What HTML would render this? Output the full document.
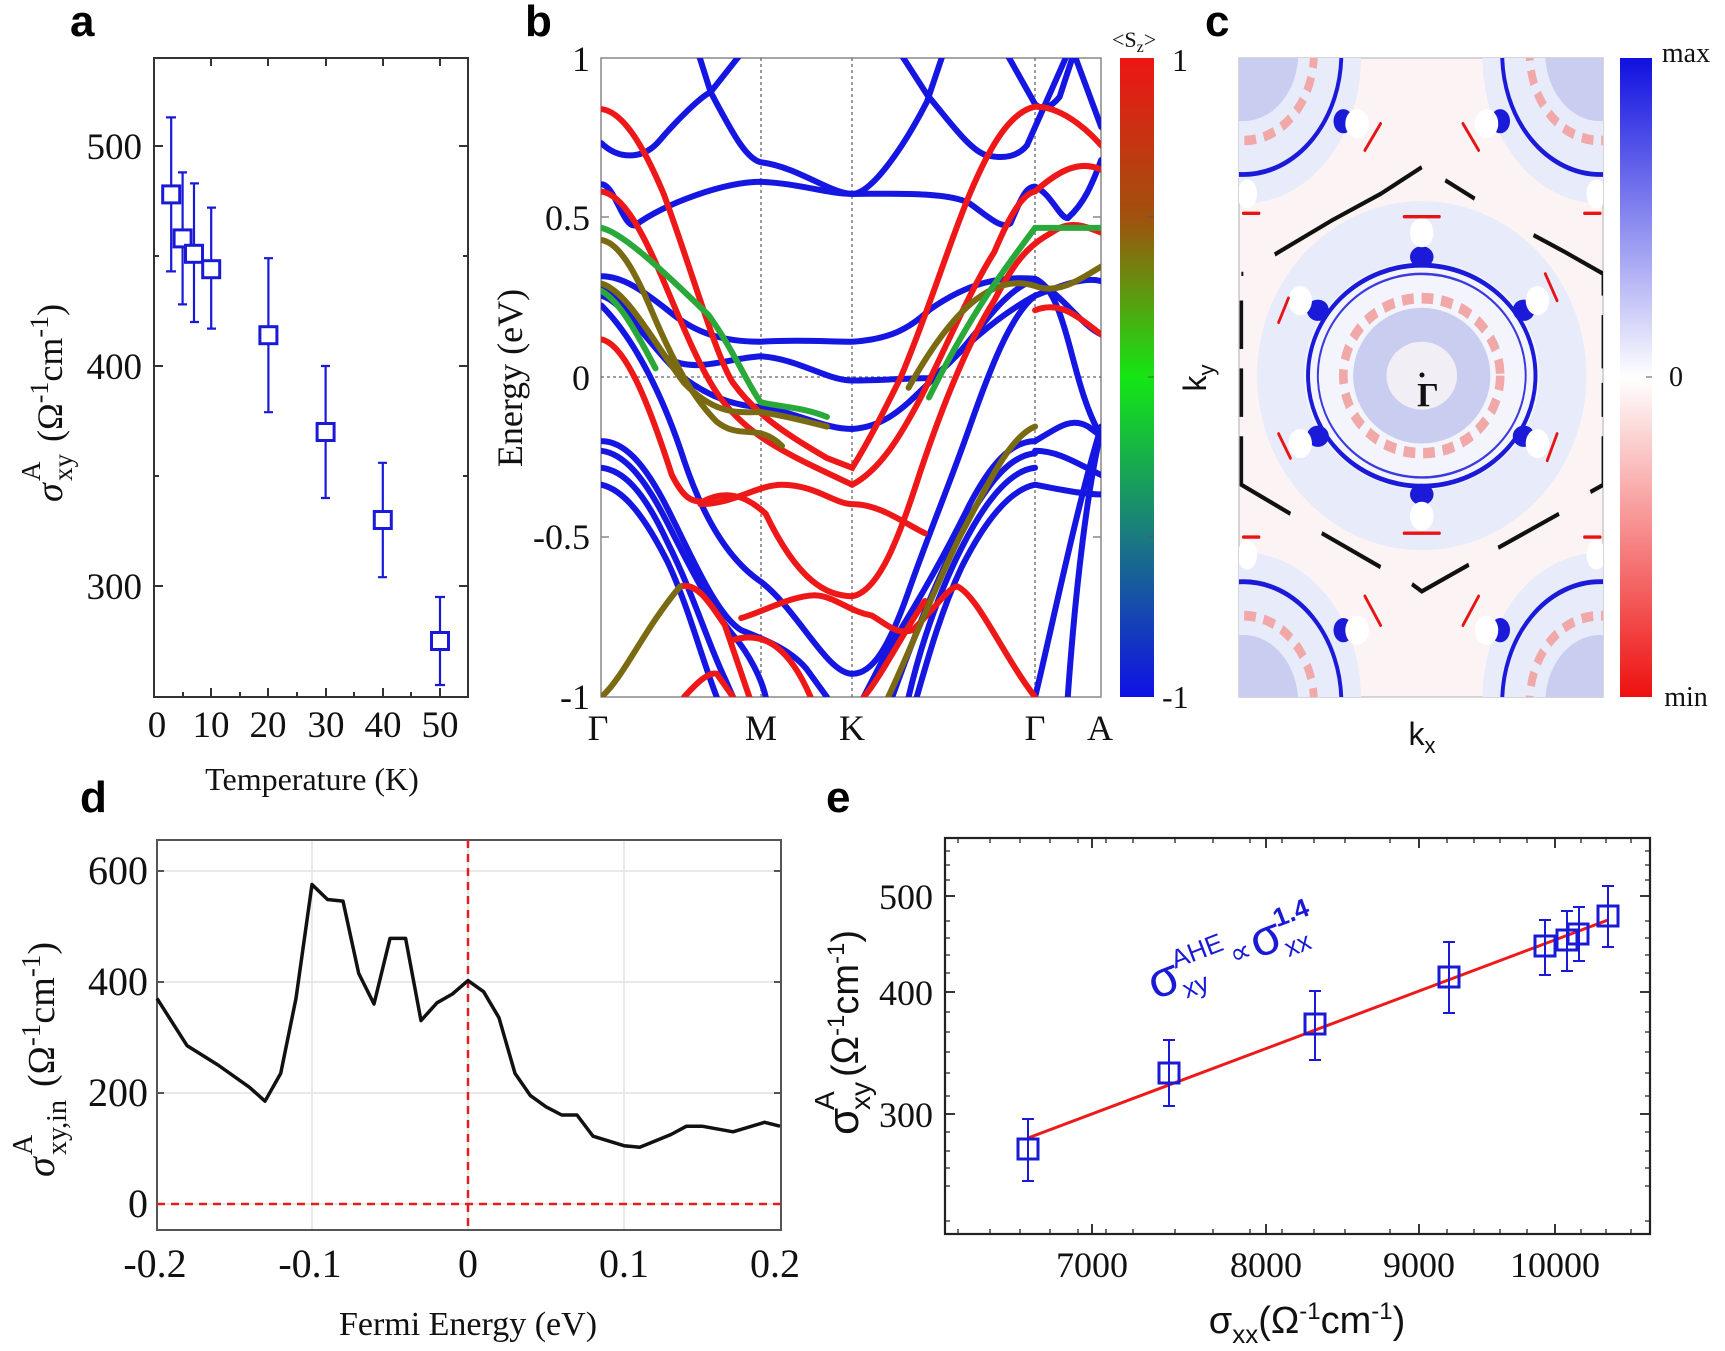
<!DOCTYPE html>
<html><head><meta charset="utf-8"><style>
html,body{margin:0;padding:0;background:#fff;}
svg{display:block;}
.ser{font-family:"Liberation Serif",serif;}
.san{font-family:"Liberation Sans",sans-serif;}
</style></head><body>
<svg width="1725" height="1351" viewBox="0 0 1725 1351" xmlns="http://www.w3.org/2000/svg">
<defs>
<linearGradient id="gsz" x1="0" y1="0" x2="0" y2="1">
<stop offset="0" stop-color="#ee1515"/><stop offset="0.25" stop-color="#a0520e"/>
<stop offset="0.5" stop-color="#14e614"/><stop offset="0.75" stop-color="#1a7a80"/>
<stop offset="1" stop-color="#1010e6"/></linearGradient>
<linearGradient id="gbc" x1="0" y1="0" x2="0" y2="1">
<stop offset="0" stop-color="#1010e0"/><stop offset="0.5" stop-color="#ffffff"/>
<stop offset="1" stop-color="#ee1010"/></linearGradient>
<clipPath id="cb"><rect x="601" y="58" width="500" height="639"/></clipPath>
<clipPath id="cc"><rect x="1239" y="58" width="364" height="639"/></clipPath>
</defs>

<!-- ============ PANEL A ============ -->
<text x="70" y="36" class="san" font-size="44" font-weight="bold">a</text>
<rect x="154" y="58" width="314" height="639" fill="none" stroke="#333" stroke-width="2"/>
<g stroke="#333" stroke-width="2">
<line x1="154" y1="146" x2="163" y2="146"/><line x1="154" y1="366" x2="163" y2="366"/><line x1="154" y1="586" x2="163" y2="586"/>
<line x1="468" y1="146" x2="459" y2="146"/><line x1="468" y1="366" x2="459" y2="366"/><line x1="468" y1="586" x2="459" y2="586"/>
<line x1="154" y1="256" x2="159" y2="256"/><line x1="154" y1="476" x2="159" y2="476"/>
<line x1="468" y1="256" x2="463" y2="256"/><line x1="468" y1="476" x2="463" y2="476"/>
<line x1="211" y1="697" x2="211" y2="688"/><line x1="268" y1="697" x2="268" y2="688"/><line x1="326" y1="697" x2="326" y2="688"/><line x1="383" y1="697" x2="383" y2="688"/><line x1="440" y1="697" x2="440" y2="688"/>
<line x1="183" y1="697" x2="183" y2="692"/><line x1="240" y1="697" x2="240" y2="692"/><line x1="297" y1="697" x2="297" y2="692"/><line x1="354" y1="697" x2="354" y2="692"/><line x1="411" y1="697" x2="411" y2="692"/>
<line x1="211" y1="58" x2="211" y2="66"/><line x1="268" y1="58" x2="268" y2="66"/><line x1="326" y1="58" x2="326" y2="66"/><line x1="383" y1="58" x2="383" y2="66"/><line x1="440" y1="58" x2="440" y2="66"/>
</g>
<g class="ser" font-size="37" fill="#111" text-anchor="end">
<text x="142" y="159">500</text><text x="142" y="379">400</text><text x="142" y="599">300</text></g>
<g class="ser" font-size="37" fill="#111" text-anchor="middle">
<text x="157" y="737">0</text><text x="211" y="737">10</text><text x="268" y="737">20</text><text x="326" y="737">30</text><text x="383" y="737">40</text><text x="440" y="737">50</text></g>
<text x="312" y="790" class="ser" font-size="32" text-anchor="middle" fill="#111">Temperature (K)</text>
<g transform="translate(62,342) rotate(-90)" class="ser" fill="#111">
<text x="-160" y="0" font-size="38" font-style="italic">σ</text>
<text x="-139" y="10" font-size="27">xy</text>
<text x="-139" y="-22" font-size="27">A</text>
<text x="-100" y="0" font-size="36">(Ω<tspan font-size="26" dy="-14">-1</tspan><tspan dy="14">cm</tspan><tspan font-size="26" dy="-14">-1</tspan><tspan dy="14">)</tspan></text>
</g>
<g stroke="#1a1ad6" stroke-width="2.2" fill="none">
<path d="M171.2,117.4V271.4M166,117.4h10M166,271.4h10"/>
<path d="M182.6,172.4V304.4M178,172.4h9M178,304.4h9"/>
<path d="M194,183.4V322M190,183.4h9M190,322h9"/>
<path d="M211.2,207.6V328.6M207,207.6h9M207,328.6h9"/>
<path d="M268.4,258.2V412.2M264,258.2h9M264,412.2h9"/>
<path d="M325.6,366V498M321,366h9M321,498h9"/>
<path d="M382.8,462.8V577.2M378,462.8h9M378,577.2h9"/>
<path d="M440,597V685M435,597h10M435,685h10"/>
</g>
<g stroke="#1a1ad6" stroke-width="3" fill="#fff">
<rect x="162.7" y="185.9" width="17" height="17"/><rect x="174.1" y="229.9" width="17" height="17"/>
<rect x="185.5" y="245.3" width="17" height="17"/><rect x="202.7" y="260.7" width="17" height="17"/>
<rect x="259.9" y="326.7" width="17" height="17"/><rect x="317.1" y="423.5" width="17" height="17"/>
<rect x="374.3" y="511.5" width="17" height="17"/><rect x="431.5" y="632.5" width="17" height="17"/>
</g>

<!-- ============ PANEL B ============ -->
<text x="525" y="36" class="san" font-size="44" font-weight="bold">b</text>
<rect x="601" y="58" width="500" height="639" fill="none" stroke="#888" stroke-width="1.5"/>
<g stroke="#666" stroke-width="1.3" stroke-dasharray="3,3">
<line x1="761" y1="58" x2="761" y2="697"/><line x1="852" y1="58" x2="852" y2="697"/><line x1="1035" y1="58" x2="1035" y2="697"/>
<line x1="601" y1="377" x2="1101" y2="377"/></g>
<g stroke="#888" stroke-width="1.5"><line x1="601" y1="217" x2="609" y2="217"/><line x1="601" y1="537" x2="609" y2="537"/><line x1="1101" y1="217" x2="1093" y2="217"/><line x1="1101" y1="537" x2="1093" y2="537"/></g>
<g class="ser" font-size="36" fill="#111" text-anchor="end">
<text x="590" y="71">1</text><text x="590" y="230">0.5</text><text x="590" y="390">0</text><text x="590" y="549">-0.5</text><text x="590" y="709">-1</text></g>
<g class="ser" font-size="36" fill="#111" text-anchor="middle">
<text x="598" y="740">Γ</text><text x="761" y="740">M</text><text x="852" y="740">K</text><text x="1035" y="740">Γ</text><text x="1100" y="740">A</text></g>
<text transform="translate(522,378) rotate(-90)" class="ser" font-size="36" text-anchor="middle" fill="#111">Energy (eV)</text>
<g clip-path="url(#cb)">
<g transform="translate(480,0) scale(0.40816,0.48473)" fill="none" stroke-linecap="round">
<g stroke="#1616e2" stroke-width="6">
<path vector-effect="non-scaling-stroke" d="M297,295 C340,330 400,330 440,290 S540,200 565,190 L640,110"/>
<path vector-effect="non-scaling-stroke" d="M535,110 L565,190 C610,260 650,330 690,335 C780,345 860,400 912,400 C960,400 1040,300 1095,210 L1135,110"/>
<path vector-effect="non-scaling-stroke" d="M1030,110 L1095,195 C1150,250 1200,310 1240,320 C1290,330 1320,320 1340,300 L1440,110"/>
<path vector-effect="non-scaling-stroke" d="M1290,110 L1360,215 C1380,230 1400,220 1420,200 L1455,110 L1522,262"/>
<path vector-effect="non-scaling-stroke" d="M297,380 C330,380 350,470 380,465 C450,420 600,375 688,375 C780,378 850,400 912,400 C1000,400 1150,395 1200,420 C1250,450 1280,475 1300,460 C1330,400 1340,385 1360,385 C1400,400 1420,450 1440,450 C1480,420 1500,380 1522,330"/>
<path vector-effect="non-scaling-stroke" d="M297,570 C350,570 400,600 460,640 C530,690 600,705 688,705 C780,700 850,705 912,705 C1000,700 1050,680 1100,640 C1200,580 1280,570 1360,575 C1400,590 1420,640 1440,700 C1460,760 1480,840 1522,900"/>
<path vector-effect="non-scaling-stroke" d="M297,590 C350,600 400,700 460,740 C530,770 600,740 688,735 C780,740 850,785 912,785 C980,785 1050,780 1100,780 C1150,760 1200,700 1250,650 C1300,600 1340,580 1360,580 C1420,600 1470,670 1522,690"/>
<path vector-effect="non-scaling-stroke" d="M297,610 C350,620 420,720 500,780 C580,830 650,840 700,840 C800,860 850,885 912,885 C1000,880 1050,830 1100,790 C1170,730 1250,660 1360,610 C1420,590 1480,570 1522,580"/>
<path vector-effect="non-scaling-stroke" d="M297,630 C380,700 450,820 500,950 C540,1050 600,1150 688,1200 C780,1260 850,1390 912,1390 C960,1390 1000,1340 1050,1220 C1100,1100 1150,1000 1200,880 C1250,760 1300,650 1360,610"/>
<path vector-effect="non-scaling-stroke" d="M297,910 C350,910 400,950 460,1050 C520,1150 580,1270 640,1300 C700,1320 760,1340 800,1380 L850,1438"/>
<path vector-effect="non-scaling-stroke" d="M297,930 C350,935 400,980 460,1080 C520,1180 570,1260 620,1310 C660,1350 690,1400 700,1438"/>
<path vector-effect="non-scaling-stroke" d="M297,965 C350,970 400,1010 460,1120 C520,1220 560,1330 600,1400 L620,1438"/>
<path vector-effect="non-scaling-stroke" d="M297,1000 C350,1010 400,1060 460,1160 C510,1250 540,1350 580,1438"/>
<path vector-effect="non-scaling-stroke" d="M1360,910 C1300,910 1250,960 1200,1040 C1130,1160 1060,1260 1000,1340 L940,1438"/>
<path vector-effect="non-scaling-stroke" d="M1360,935 C1300,940 1250,990 1190,1080 C1120,1190 1060,1320 1010,1438"/>
<path vector-effect="non-scaling-stroke" d="M1360,965 C1300,970 1240,1030 1180,1130 C1120,1230 1080,1330 1050,1438"/>
<path vector-effect="non-scaling-stroke" d="M1360,1000 C1300,1010 1240,1070 1180,1170 C1130,1260 1100,1350 1070,1438"/>
<path vector-effect="non-scaling-stroke" d="M1360,910 C1420,880 1450,860 1490,880 L1522,900"/>
<path vector-effect="non-scaling-stroke" d="M1360,930 C1420,930 1470,960 1522,980"/>
<path vector-effect="non-scaling-stroke" d="M1360,1000 C1420,1010 1480,1020 1522,1020"/>
<path vector-effect="non-scaling-stroke" d="M1440,1438 C1460,1200 1490,1000 1522,890"/>
<path vector-effect="non-scaling-stroke" d="M1360,1438 C1400,1300 1460,1050 1522,880"/>
</g>
<g stroke="#ee1818" stroke-width="6">
<path vector-effect="non-scaling-stroke" d="M297,225 C350,230 400,300 450,400 C520,560 580,740 620,790 C680,860 760,900 850,945 L912,965 C960,900 1000,830 1030,780 C1100,640 1150,500 1200,400 C1250,300 1300,230 1360,220 C1420,220 1480,260 1522,300"/>
<path vector-effect="non-scaling-stroke" d="M297,395 C350,400 400,480 450,580 C500,680 540,760 580,810 C650,900 760,940 912,1000 C980,970 1030,900 1080,820 C1140,720 1200,600 1260,520 C1300,440 1330,400 1360,395 C1420,350 1470,330 1522,350"/>
<path vector-effect="non-scaling-stroke" d="M297,700 C360,710 420,850 470,980 C500,1030 520,1035 545,1035 C600,1010 650,1020 700,1060 C780,1200 850,1230 912,1230 C980,1220 1030,1100 1080,970 C1140,820 1200,700 1260,620 C1320,520 1360,500 1400,480 C1450,450 1490,470 1522,480"/>
<path vector-effect="non-scaling-stroke" d="M540,1040 C620,1040 680,1000 740,1000 C820,1000 870,1040 912,1040 C980,1040 1040,1080 1090,1100"/>
<path vector-effect="non-scaling-stroke" d="M490,1210 C530,1200 560,1240 600,1290 L660,1438"/>
<path vector-effect="non-scaling-stroke" d="M640,1275 C700,1260 760,1230 820,1228 C870,1230 900,1260 960,1270 C1000,1290 1020,1310 1060,1300 C1120,1250 1150,1210 1170,1210 C1220,1230 1280,1350 1360,1438"/>
<path vector-effect="non-scaling-stroke" d="M620,1320 C700,1300 760,1340 810,1438"/>
<path vector-effect="non-scaling-stroke" d="M1360,640 C1420,620 1460,650 1522,690"/>
<path vector-effect="non-scaling-stroke" d="M500,1438 C530,1410 560,1385 580,1390 L620,1438"/>
<path vector-effect="non-scaling-stroke" d="M940,1438 C980,1400 1040,1300 1090,1240"/>
</g>
<g stroke="#7a6a12" stroke-width="6">
<path vector-effect="non-scaling-stroke" d="M297,1438 C350,1400 400,1300 490,1210"/>
<path vector-effect="non-scaling-stroke" d="M297,585 C360,600 420,700 500,790 C580,860 640,850 688,850 C760,860 800,870 850,880"/>
<path vector-effect="non-scaling-stroke" d="M297,495 C340,500 380,560 420,640 C470,740 520,820 580,870 C640,910 680,870 740,920"/>
<path vector-effect="non-scaling-stroke" d="M1050,800 C1150,650 1250,560 1360,590 C1420,610 1480,570 1522,550"/>
<path vector-effect="non-scaling-stroke" d="M1000,1438 C1050,1350 1120,1200 1180,1100 C1250,990 1300,900 1360,880"/>
</g>
<g stroke="#2aa83a" stroke-width="6">
<path vector-effect="non-scaling-stroke" d="M297,470 C350,480 450,560 560,650 C620,720 660,800 688,830 C740,840 790,840 850,860"/>
<path vector-effect="non-scaling-stroke" d="M1100,820 C1200,650 1280,560 1360,470 L1522,470"/>
<path vector-effect="non-scaling-stroke" d="M297,600 C340,620 380,680 430,760"/>
</g>
</g>
</g>

<!-- Sz colorbar -->
<rect x="1120" y="58" width="34" height="639" fill="url(#gsz)"/>
<g stroke="#555" stroke-width="1"><line x1="1154" y1="217" x2="1148" y2="217"/><line x1="1154" y1="377" x2="1148" y2="377"/><line x1="1154" y1="537" x2="1148" y2="537"/></g>
<text x="1112" y="47" class="ser" font-size="22" fill="#111">&lt;S<tspan font-size="16" dy="5">z</tspan><tspan dy="-5">&gt;</tspan></text>
<text x="1172" y="71" class="ser" font-size="32" fill="#111">1</text>
<text x="1162" y="708" class="ser" font-size="32" fill="#111">-1</text>

<!-- ============ PANEL C ============ -->
<text x="1205" y="36" class="san" font-size="44" font-weight="bold">c</text>
<rect x="1239" y="58" width="364" height="639" fill="#fcf4f4" stroke="#bbb" stroke-width="1.2"/>
<g clip-path="url(#cc)">
<g transform="translate(1110,0) scale(0.39216,0.48473)">
<ellipse cx="795" cy="775" rx="420" ry="360" fill="#e8ebf9"/>
<ellipse cx="795" cy="775" rx="300" ry="235" fill="#f4f5fc"/>
<ellipse cx="795" cy="775" rx="290" ry="228" fill="none" stroke="#1a1ad8" stroke-width="10"/>
<ellipse cx="795" cy="775" rx="265" ry="210" fill="none" stroke="#3a3ae0" stroke-width="5"/>
<ellipse cx="795" cy="775" rx="200" ry="160" fill="none" stroke="#f0a8a8" stroke-width="22" stroke-dasharray="30,20"/>
<ellipse cx="795" cy="775" rx="175" ry="140" fill="#c9cdef"/>
<ellipse cx="795" cy="775" rx="90" ry="70" fill="#f2eef6"/>
<g fill="#e8ebf9">
<circle cx="340" cy="120" r="300"/><circle cx="1250" cy="120" r="300"/><circle cx="340" cy="1440" r="300"/><circle cx="1250" cy="1440" r="300"/></g>
<g fill="none" stroke="#1a1ad8" stroke-width="10">
<circle cx="340" cy="110" r="250"/><circle cx="1250" cy="110" r="250"/><circle cx="340" cy="1450" r="250"/><circle cx="1250" cy="1450" r="250"/></g>
<g fill="none" stroke="#f0a8a8" stroke-width="20" stroke-dasharray="30,20">
<circle cx="340" cy="110" r="180"/><circle cx="1250" cy="110" r="180"/><circle cx="340" cy="1450" r="180"/><circle cx="1250" cy="1450" r="180"/></g>
<g fill="#c9cdef">
<circle cx="340" cy="110" r="140"/><circle cx="1250" cy="110" r="140"/><circle cx="340" cy="1450" r="140"/><circle cx="1250" cy="1450" r="140"/></g>
<g fill="#1a1ad8">
<ellipse cx="795" cy="530" rx="30" ry="22"/><ellipse cx="795" cy="1020" rx="30" ry="22"/>
<ellipse cx="530" cy="640" rx="28" ry="22"/><ellipse cx="1055" cy="640" rx="28" ry="22"/>
<ellipse cx="530" cy="900" rx="28" ry="22"/><ellipse cx="1055" cy="900" rx="28" ry="22"/>
<ellipse cx="595" cy="250" rx="25" ry="25"/><ellipse cx="995" cy="250" rx="25" ry="25"/>
<ellipse cx="595" cy="1300" rx="25" ry="25"/><ellipse cx="995" cy="1300" rx="25" ry="25"/>
</g>
<g fill="#fff">
<ellipse cx="630" cy="255" rx="30" ry="30"/><ellipse cx="960" cy="255" rx="30" ry="30"/>
<ellipse cx="485" cy="620" rx="30" ry="30"/><ellipse cx="1090" cy="620" rx="30" ry="30"/>
<ellipse cx="795" cy="480" rx="30" ry="30"/><ellipse cx="795" cy="1065" rx="30" ry="30"/>
<ellipse cx="485" cy="915" rx="30" ry="30"/><ellipse cx="1090" cy="915" rx="30" ry="30"/>
<ellipse cx="630" cy="1300" rx="30" ry="30"/><ellipse cx="960" cy="1300" rx="30" ry="30"/>
<ellipse cx="350" cy="400" rx="25" ry="30"/><ellipse cx="1240" cy="400" rx="25" ry="30"/>
<ellipse cx="350" cy="1145" rx="25" ry="30"/><ellipse cx="1240" cy="1145" rx="25" ry="30"/>
</g>
<g stroke="#e81414" stroke-width="7" stroke-linecap="round">
<line x1="650" y1="310" x2="690" y2="255"/><line x1="900" y1="255" x2="940" y2="310"/>
<line x1="430" y1="665" x2="455" y2="615"/><line x1="1110" y1="565" x2="1140" y2="620"/>
<line x1="430" y1="895" x2="460" y2="945"/><line x1="1115" y1="950" x2="1140" y2="895"/>
<line x1="650" y1="1230" x2="690" y2="1290"/><line x1="900" y1="1290" x2="940" y2="1230"/>
<line x1="750" y1="447" x2="840" y2="447"/><line x1="750" y1="1100" x2="840" y2="1100"/>
<line x1="340" y1="440" x2="380" y2="440"/><line x1="1210" y1="440" x2="1250" y2="440"/>
<line x1="340" y1="1108" x2="380" y2="1108"/><line x1="1210" y1="1108" x2="1250" y2="1108"/>
</g>
<path d="M795,345 L690,400 L565,455 L420,525 M855,372 L930,410 M1080,485 L1160,520 L1258,565 L1258,610 M1258,650 L1258,760 M1258,790 L1258,860 M1258,900 L1258,1000 L1225,1015 M1145,1060 L990,1130 M915,1165 L795,1220 L770,1205 M690,1170 L540,1100 M460,1060 L335,1000 L335,900 M335,860 L335,760 M335,720 L335,620 M335,565 L340,565" fill="none" stroke="#111" stroke-width="9"/>
</g>
</g>
<circle cx="1422" cy="375" r="2.5" fill="#111"/>
<text x="1428" y="406" class="ser" font-size="34" font-weight="bold" fill="#111" text-anchor="middle">Γ</text>
<text x="1422" y="745" class="san" font-size="32" fill="#111" text-anchor="middle">k<tspan font-size="22" dy="8">x</tspan></text>
<text transform="translate(1206,378) rotate(-90)" class="san" font-size="32" fill="#111" text-anchor="middle">k<tspan font-size="22" dy="8">y</tspan></text>
<rect x="1620" y="58" width="32" height="639" fill="url(#gbc)"/>
<line x1="1652" y1="377" x2="1646" y2="377" stroke="#555"/>
<text x="1686" y="62" class="ser" font-size="28" fill="#111" text-anchor="middle">max</text>
<text x="1676" y="386" class="ser" font-size="28" fill="#111" text-anchor="middle">0</text>
<text x="1686" y="706" class="ser" font-size="28" fill="#111" text-anchor="middle">min</text>

<!-- ============ PANEL D ============ -->
<text x="80" y="812" class="san" font-size="44" font-weight="bold">d</text>
<g stroke="#e2e2e2" stroke-width="1.5">
<line x1="312" y1="840" x2="312" y2="1230"/><line x1="468" y1="840" x2="468" y2="1230"/><line x1="624" y1="840" x2="624" y2="1230"/>
<line x1="157" y1="871" x2="781" y2="871"/><line x1="157" y1="982" x2="781" y2="982"/><line x1="157" y1="1093" x2="781" y2="1093"/><line x1="157" y1="1204" x2="781" y2="1204"/></g>
<rect x="157" y="840" width="624" height="390" fill="none" stroke="#555" stroke-width="2"/>
<g stroke="#555" stroke-width="2">
<line x1="157" y1="871" x2="164" y2="871"/><line x1="157" y1="982" x2="164" y2="982"/><line x1="157" y1="1093" x2="164" y2="1093"/><line x1="157" y1="1204" x2="164" y2="1204"/>
<line x1="781" y1="871" x2="774" y2="871"/><line x1="781" y1="982" x2="774" y2="982"/><line x1="781" y1="1093" x2="774" y2="1093"/><line x1="781" y1="1204" x2="774" y2="1204"/></g>
<line x1="468" y1="840" x2="468" y2="1230" stroke="#e02020" stroke-width="2.5" stroke-dasharray="8,6"/>
<line x1="157" y1="1204" x2="781" y2="1204" stroke="#e02020" stroke-width="2.5" stroke-dasharray="8,6"/>
<polyline fill="none" stroke="#111" stroke-width="3.5" stroke-linejoin="round" points="157,998.4 187,1045.6 218,1065 249.5,1087.3 265,1101.2 280.7,1073.4 296,998.4 312,884.5 327.5,899.5 343,901.1 358.7,973.4 374,1004 390,938.4 405.6,938.4 421,1020.6 437,1002.8 452.4,994 468,980.6 483.6,991.7 499,1017.8 515,1073.4 530.4,1095.6 546,1106.8 561.7,1115 577,1115 593,1136.2 624,1145.7 639.7,1147.3 671,1134.5 686.5,1126.2 702,1126.2 733,1131.8 764.6,1122.3 780,1126.2"/>
<g class="ser" font-size="40" fill="#111" text-anchor="end">
<text x="148" y="884">600</text><text x="148" y="995">400</text><text x="148" y="1106">200</text><text x="148" y="1217">0</text></g>
<g class="ser" font-size="40" fill="#111" text-anchor="middle">
<text x="155" y="1277">-0.2</text><text x="310" y="1277">-0.1</text><text x="468" y="1277">0</text><text x="624" y="1277">0.1</text><text x="775" y="1277">0.2</text></g>
<text x="468" y="1335" class="ser" font-size="34" fill="#111" text-anchor="middle">Fermi Energy (eV)</text>
<g transform="translate(54,1005) rotate(-90)" class="ser" fill="#111">
<text x="-172" y="0" font-size="40" font-style="italic">σ</text>
<text x="-150" y="12" font-size="28">xy,in</text>
<text x="-150" y="-22" font-size="28">A</text>
<text x="-82" y="0" font-size="38">(Ω<tspan font-size="27" dy="-14">-1</tspan><tspan dy="14">cm</tspan><tspan font-size="27" dy="-14">-1</tspan><tspan dy="14">)</tspan></text>
</g>

<!-- ============ PANEL E ============ -->
<text x="826" y="812" class="san" font-size="44" font-weight="bold">e</text>
<rect x="945" y="838" width="705" height="396" fill="none" stroke="#222" stroke-width="2.2"/>
<g stroke="#222" stroke-width="1.8">
<line x1="1092" y1="1234" x2="1092" y2="1224"/><line x1="1266" y1="1234" x2="1266" y2="1224"/><line x1="1419" y1="1234" x2="1419" y2="1224"/><line x1="1555" y1="1234" x2="1555" y2="1224"/>
<line x1="1092" y1="838" x2="1092" y2="848"/><line x1="1266" y1="838" x2="1266" y2="848"/><line x1="1419" y1="838" x2="1419" y2="848"/><line x1="1555" y1="838" x2="1555" y2="848"/>
<line x1="945" y1="896" x2="955" y2="896"/><line x1="945" y1="992" x2="955" y2="992"/><line x1="945" y1="1114" x2="955" y2="1114"/>
<line x1="1650" y1="896" x2="1640" y2="896"/><line x1="1650" y1="992" x2="1640" y2="992"/><line x1="1650" y1="1114" x2="1640" y2="1114"/>
</g>
<g stroke="#222" stroke-width="1.3">
<path d="M958,1234v-5M990,1234v-5M1020,1234v-5M1050,1234v-5M1078,1234v-5M1106,1234v-5M1133,1234v-5M1175,1234v-5M1213,1234v-5M1250,1234v-5M1282,1234v-5M1314,1234v-5M1345,1234v-5M1390,1234v-5M1447,1234v-5M1474,1234v-5M1500,1234v-5M1527,1234v-5M1581,1234v-5M1606,1234v-5M1631,1234v-5"/>
<path d="M958,838v5M990,838v5M1020,838v5M1050,838v5M1078,838v5M1106,838v5M1133,838v5M1175,838v5M1213,838v5M1250,838v5M1282,838v5M1314,838v5M1345,838v5M1390,838v5M1447,838v5M1474,838v5M1500,838v5M1527,838v5M1581,838v5M1606,838v5M1631,838v5"/>
<path d="M945,1221h5M945,1186h5M945,1168h5M945,1151h5M945,1132h5M945,1096h5M945,1073h5M945,1052h5M945,1032h5M945,1012h5M945,973h5M945,955h5M945,938h5M945,921h5M945,880h5M945,865h5M945,851h5"/>
<path d="M1650,1221h-5M1650,1186h-5M1650,1168h-5M1650,1151h-5M1650,1132h-5M1650,1096h-5M1650,1073h-5M1650,1052h-5M1650,1032h-5M1650,1012h-5M1650,973h-5M1650,955h-5M1650,938h-5M1650,921h-5M1650,880h-5M1650,865h-5M1650,851h-5"/>
</g>
<g class="ser" font-size="36" fill="#111" text-anchor="end">
<text x="933" y="909">500</text><text x="933" y="1005">400</text><text x="933" y="1127">300</text></g>
<g class="ser" font-size="36" fill="#111" text-anchor="middle">
<text x="1092" y="1277">7000</text><text x="1266" y="1277">8000</text><text x="1419" y="1277">9000</text><text x="1555" y="1277">10000</text></g>
<text x="1307" y="1333" class="san" font-size="38" fill="#111" text-anchor="middle">σ<tspan font-size="26" dy="10">xx</tspan><tspan dy="-10">(Ω</tspan><tspan font-size="24" dy="-14">-1</tspan><tspan dy="14">cm</tspan><tspan font-size="24" dy="-14">-1</tspan><tspan dy="14">)</tspan></text>
<g transform="translate(858,945) rotate(-90)" class="san" fill="#111">
<text x="-190" y="0" font-size="44">σ</text>
<text x="-165" y="12" font-size="28">xy</text>
<text x="-165" y="-24" font-size="28">A</text>
<text x="-132" y="0" font-size="38">(Ω<tspan font-size="24" dy="-14">-1</tspan><tspan dy="14">cm</tspan><tspan font-size="24" dy="-14">-1</tspan><tspan dy="14">)</tspan></text>
</g>
<line x1="1028" y1="1138" x2="1608" y2="920" stroke="#ee1a1a" stroke-width="3"/>
<g stroke="#1a1ad6" stroke-width="2" fill="none">
<path d="M1028,1119V1181M1022,1119h12M1022,1181h12"/>
<path d="M1169,1040V1106M1163,1040h12M1163,1106h12"/>
<path d="M1315,991V1060M1309,991h12M1309,1060h12"/>
<path d="M1449,942V1013M1443,942h12M1443,1013h12"/>
<path d="M1545,920V975M1539,920h12M1539,975h12"/>
<path d="M1567,911V971M1561,911h12M1561,971h12"/>
<path d="M1579,907V961M1573,907h12M1573,961h12"/>
<path d="M1608,886V947M1602,886h12M1602,947h12"/>
</g>
<g stroke="#1a1ad6" stroke-width="3" fill="none">
<rect x="1018" y="1139" width="20" height="20"/><rect x="1159" y="1063" width="20" height="20"/>
<rect x="1305" y="1014" width="20" height="20"/><rect x="1439" y="967" width="20" height="20"/>
<rect x="1535" y="936" width="20" height="20"/><rect x="1568" y="924" width="20" height="20"/>
<rect x="1557" y="930" width="20" height="20"/><rect x="1598" y="906" width="20" height="20"/>
</g>
<g transform="translate(1155,1000) rotate(-21)" class="san" fill="#1a1ad6">
<text x="0" y="0" font-size="50">σ</text>
<text x="30" y="10" font-size="26">xy</text>
<text x="30" y="-22" font-size="26">AHE</text>
<text x="86" y="-4" font-size="30">∝</text>
<text x="110" y="-2" font-size="50">σ</text>
<text x="140" y="8" font-size="26">xx</text>
<text x="140" y="-24" font-size="26" font-weight="bold">1.4</text>
</g>
</svg>
</body></html>
